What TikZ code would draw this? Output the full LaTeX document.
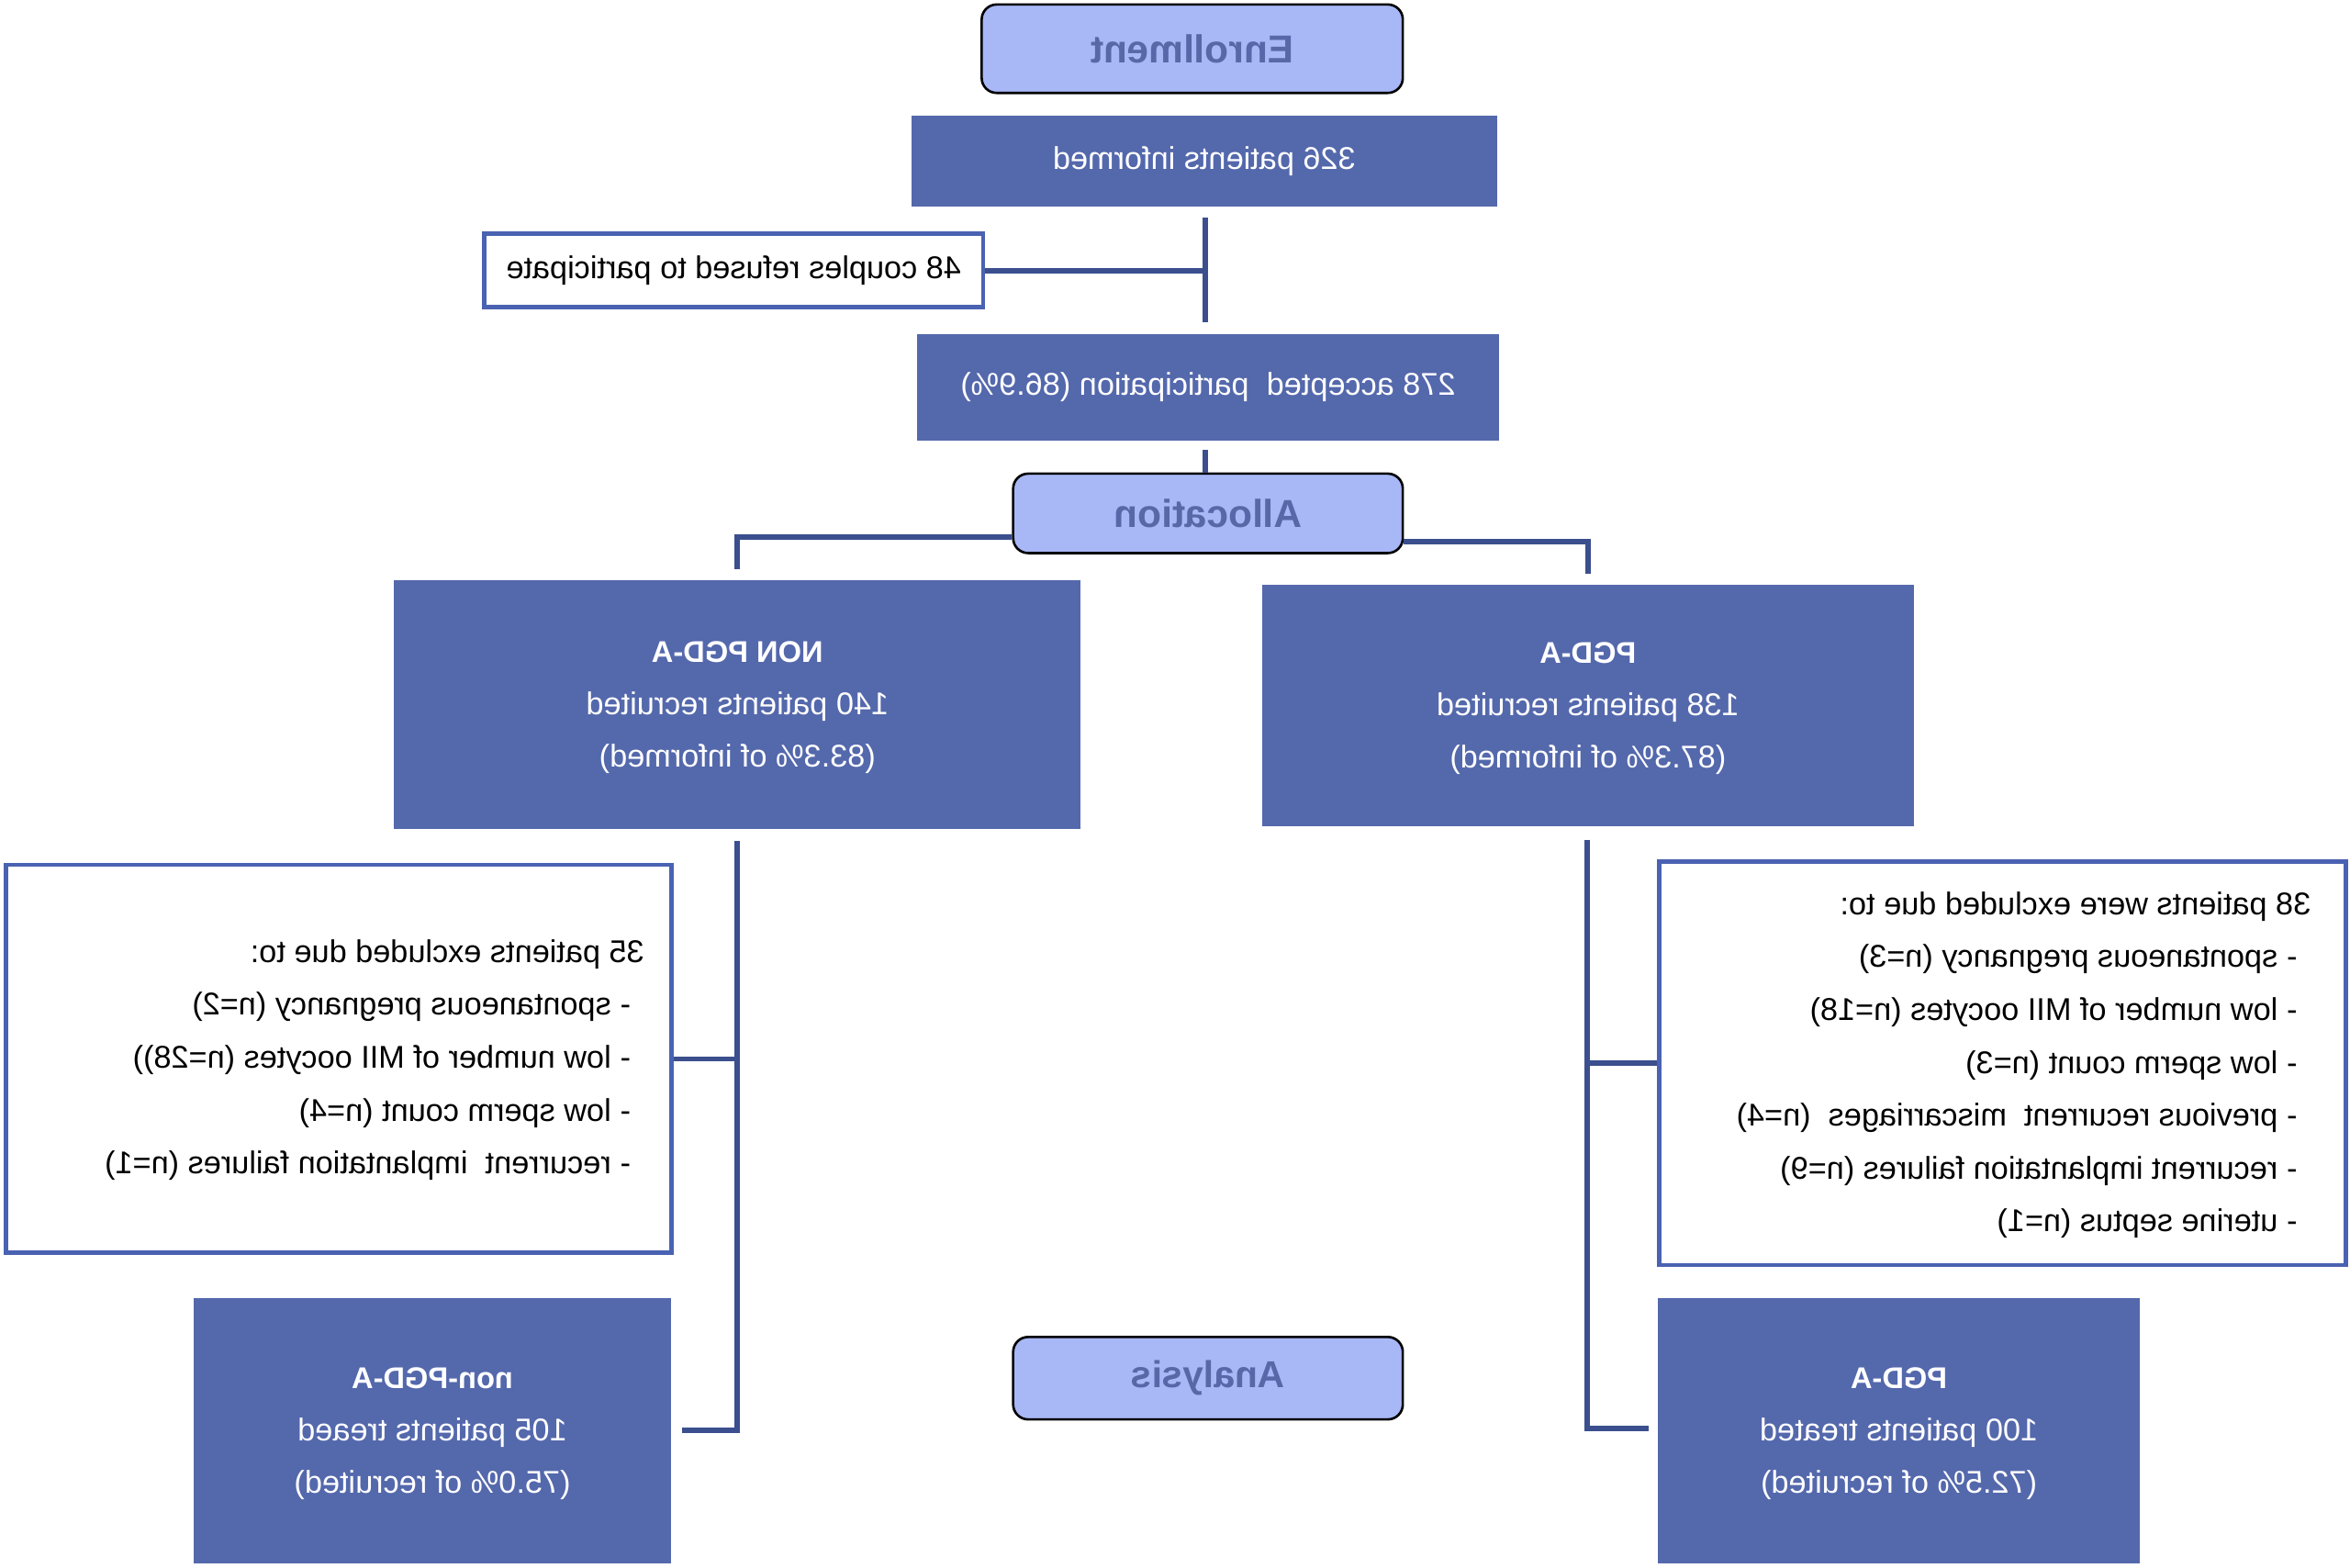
\documentclass[tikz,border=0pt]{standalone}
\usepackage{fontspec}
\setmainfont{Liberation Sans}
\usepackage{graphicx}
\definecolor{boxblue}{HTML}{5468AC}
\definecolor{lightblue}{HTML}{A8B7F6}
\definecolor{titletext}{HTML}{5767A8}
\definecolor{linecol}{HTML}{3B4F8E}
\definecolor{exborder}{HTML}{4A62B2}
\newcommand{\mir}[1]{\reflectbox{#1}}
\newcommand{\mirlines}[2]{\reflectbox{\begin{tabular}{@{}#1@{}}#2\end{tabular}}}
\newcommand{\hd}[1]{{\fontsize{20}{35}\selectfont\bfseries #1}}
\newcommand{\bul}{\hspace{9pt}-\hspace{6pt}}
\tikzset{
  darkbox/.style={fill=boxblue, text=white, inner sep=0pt, font=\fontsize{21}{35}\selectfont},
  titlebox/.style={draw=black, line width=1.6pt, rounded corners=10pt, fill=lightblue, text=titletext, inner sep=0pt, font=\fontsize{26}{30}\selectfont\bfseries},
  whitebox/.style={draw=exborder, line width=3pt, fill=white, inner sep=0pt, font=\fontsize{21}{35}\selectfont},
  listtext/.style={inner sep=0pt, text=black, font=\fontsize{21}{35.3}\selectfont},
  conn/.style={draw=linecol, line width=3.6pt}
}
\begin{document}
\begin{tikzpicture}[x=1pt, y=-1pt]
\useasboundingbox (0,0) rectangle (1568,1046);
\fill[white] (0,0) rectangle (1568,1046);

% boxes
\node[titlebox, minimum width=281pt, minimum height=59pt] (enr) at (795.5,32.5) {\mir{Enrollment}};
\node[darkbox, minimum width=391pt, minimum height=61pt] (inf) at (803.5,107.5) {\mir{326 patients informed}};
\node[whitebox, minimum width=333pt, minimum height=49pt] (ref) at (489.5,180.5) {\mir{48 couples refused to participate}};
\node[darkbox, minimum width=388pt, minimum height=71pt] (acc) at (806,258.5) {\mir{278 accepted\ \ participation (86.9\%)}};
\node[titlebox, minimum width=260pt, minimum height=53pt] (alloc) at (806,342.5) {\mir{Allocation}};

\node[darkbox, minimum width=458pt, minimum height=166pt] (nonrec) at (492,470) {\mirlines{c}{\hd{NON PGD-A}\\140 patients recruited\\(83.3\% of informed)}};
\node[darkbox, minimum width=435pt, minimum height=161pt] (pgdrec) at (1059.5,470.5) {\mirlines{c}{\hd{PGD-A}\\138 patients recruited\\(87.3\% of informed)}};

\node[whitebox, minimum width=444pt, minimum height=259pt] (exL) at (226,706.5) {};
\node[listtext, anchor=east] (exLt) at (430,705.5) {\mirlines{l}{35 patients excluded due to:\\
\bul spontaneous pregnancy (n=2)\\
\bul low number of MII oocytes (n=28))\\
\bul low sperm count (n=4)\\
\bul recurrent\ \ implantation failures (n=1)}};

\node[whitebox, minimum width=458pt, minimum height=269pt] (exR) at (1336,709.5) {};
\node[listtext, anchor=east] (exRt) at (1542,709) {\mirlines{l}{38 patients were excluded due to:\\
\bul spontaneous pregnancy (n=3)\\
\bul low number of MII oocytes (n=18)\\
\bul low sperm count (n=3)\\
\bul previous recurrent\ \ miscarriages\ \ (n=4)\\
\bul recurrent implantation failures (n=9)\\
\bul uterine septus (n=1)}};

\node[darkbox, minimum width=319pt, minimum height=177pt] (nontr) at (288.5,954.5) {\mirlines{c}{\hd{non-PGD-A}\\105 patients treaed\\(75.0\% of recruited)}};
\node[darkbox, minimum width=322pt, minimum height=177pt] (pgdtr) at (1267,954.5) {\mirlines{c}{\hd{PGD-A}\\100 patients treated\\(72.5\% of recruited)}};
\node[titlebox, minimum width=260pt, minimum height=55pt, font=\fontsize{25}{30}\selectfont\bfseries] (ana) at (806,919.5) {\mir{Analysis}};

% connectors
\draw[conn, shorten <=7pt, shorten >=8pt] ([xshift=0.5pt]inf.south) -- ([xshift=0.5pt]inf.south |- acc.north);
\draw[conn] (ref.east) -- (ref.east -| inf.south);
\draw[conn, shorten <=6pt] ([xshift=-2pt]acc.south) -- ([xshift=-2pt]acc.south |- alloc.north);
\draw[conn, shorten >=7pt] ([yshift=-16pt]alloc.west) -- ([yshift=-16pt]alloc.west -| nonrec.north) -- (nonrec.north);
\draw[conn, shorten >=7pt] ([yshift=-19pt]alloc.east) -- ([yshift=-19pt]alloc.east -| pgdrec.north) -- (pgdrec.north);

\draw[conn, shorten <=8pt, shorten >=7pt] (nonrec.south) -- (nonrec.south |- nontr.east) -- (nontr.east);
\draw[conn] (nonrec.south |- exL.east) -- (exL.east);
\draw[conn, shorten <=9pt, shorten >=6pt] ([xshift=-0.5pt]pgdrec.south) -- ([xshift=-0.5pt, yshift=1.5pt]pgdrec.south |- pgdtr.west) -- ([yshift=1.5pt]pgdtr.west);
\draw[conn] ([xshift=-0.5pt]pgdrec.south |- exR.west) -- (exR.west);
\end{tikzpicture}
\end{document}
